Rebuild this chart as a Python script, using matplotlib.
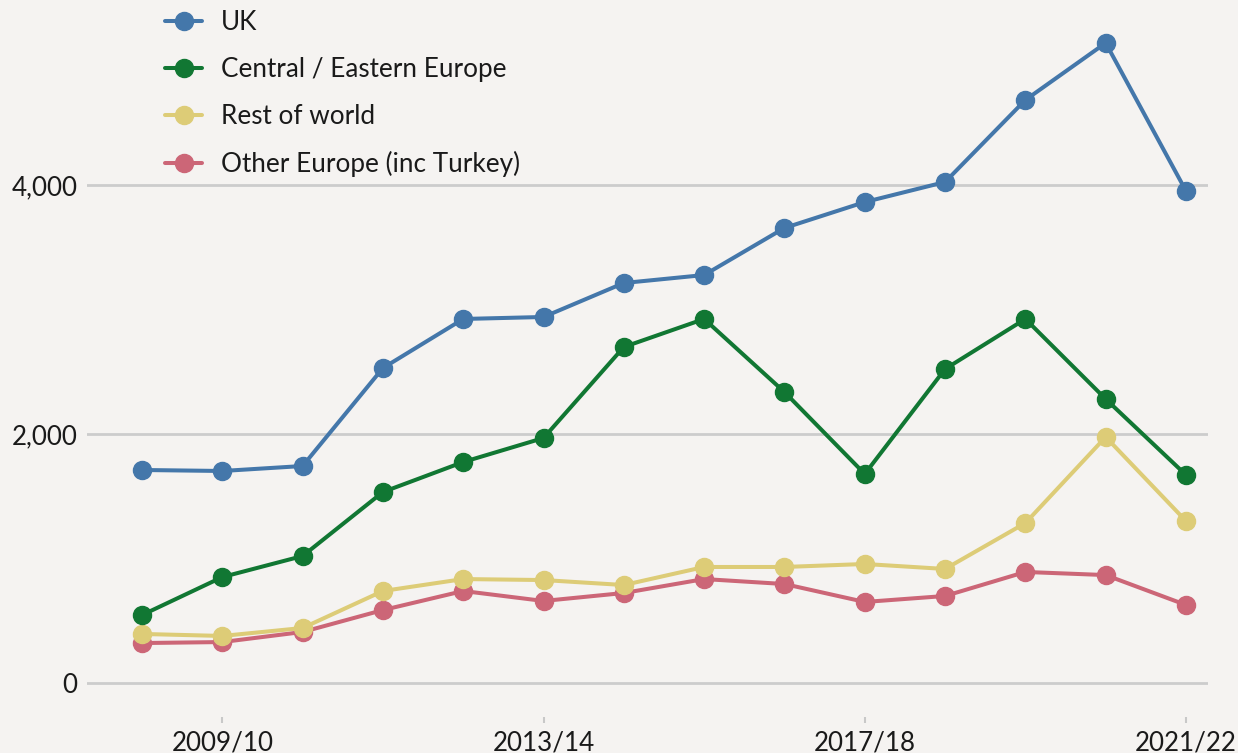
import matplotlib.pyplot as plt
import numpy as np

# Academic years and series values
years = ['2008/09', '2009/10', '2010/11', '2011/12', '2012/13', '2013/14', '2014/15',
         '2015/16', '2016/17', '2017/18', '2018/19', '2019/20', '2020/21', '2021/22']
uk = [1711, 1703, 1743, 2530, 2924, 2940, 3213, 3277, 3655, 3863, 4024, 4683, 5141, 3952]
central_eastern = [546, 851, 1020, 1534, 1775, 1968, 2699, 2924, 2337, 1679, 2522, 2924, 2281, 1671]
rest_of_world = [394, 378, 442, 739, 835, 827, 787, 932, 932, 956, 916, 1285, 1976, 1301]
other_europe = [321, 329, 410, 586, 739, 659, 723, 835, 795, 651, 699, 892, 867, 627]

series = [
    ('UK', uk, '#4477aa'),
    ('Central / Eastern Europe', central_eastern, '#117733'),
    ('Rest of world', rest_of_world, '#ddcc77'),
    ('Other Europe (inc Turkey)', other_europe, '#cc6677'),
]
shown_years = ['2009/10', '2013/14', '2017/18', '2021/22']

plt.rcParams['font.family'] = ['Lato', 'DejaVu Sans']
bg = '#f5f3f1'

W, H = 1238, 753
fig = plt.figure(figsize=(W / 100, H / 100), dpi=100, facecolor=bg)
ax = fig.add_axes([87 / W, (H - 717) / H, (1208 - 87) / W, 717 / H], facecolor=bg)

x = np.arange(len(years))
handles = {}
# draw bottom series first so UK sits on top
for name, vals, col in reversed(series):
    line, = ax.plot(x, vals, color=col, lw=2.9, marker='o', ms=13,
                    solid_capstyle='round', label=name, clip_on=False)
    handles[name] = line

ax.set_xlim(-0.685, 13.274)
ax.set_ylim(-273, 5486)

ax.set_yticks([0, 2000, 4000])
ax.set_yticklabels(['0', '2,000', '4,000'])
ax.yaxis.grid(True, color='#cccccc', lw=2)
ax.set_axisbelow(True)

ax.set_xticks([years.index(y) for y in shown_years])
ax.set_xticklabels(shown_years)

for s in ax.spines.values():
    s.set_visible(False)

ax.tick_params(axis='y', length=0, pad=7, labelsize=18.7, labelcolor='#1a1a1a')
ax.tick_params(axis='x', length=4.5, width=1.5, color='#c8c8c8', pad=5,
               labelsize=18.7, labelcolor='#1a1a1a')

order = [s[0] for s in series]
leg = ax.legend([handles[n] for n in order], order, loc='upper left',
                bbox_to_anchor=(165 / W, 1 - 10 / H), bbox_transform=fig.transFigure,
                frameon=False, fontsize=18.8, handlelength=1.42, handletextpad=0.73,
                labelspacing=0.84, borderpad=0, borderaxespad=0)
for t in leg.get_texts():
    t.set_color('#1a1a1a')

fig.savefig('out.png', dpi=100, facecolor=bg)
